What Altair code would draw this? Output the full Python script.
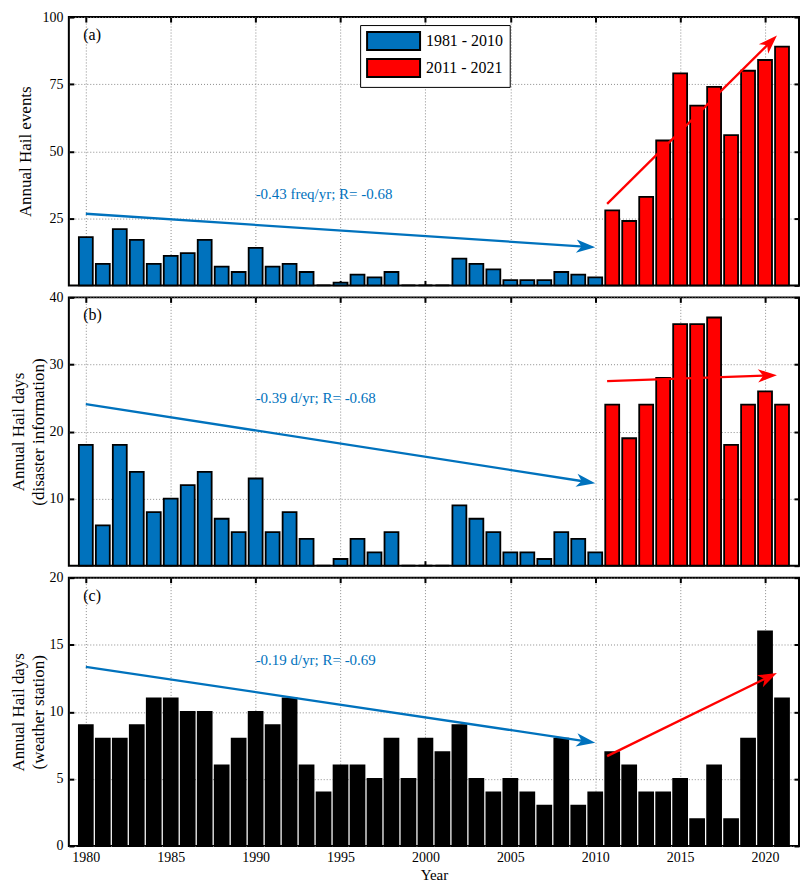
import math
import altair as alt
import pandas as pd

# ---------------- data ----------------
YEARS = list(range(1980, 2022))
EVENTS = [18, 8, 21, 17, 8, 11, 12, 17, 7, 5, 14, 7, 8, 5, 0, 1, 4, 3, 5, 0, 0,
          0, 10, 8, 6, 2, 2, 2, 5, 4, 3, 28, 24, 33, 54, 79, 67, 74, 56, 80, 84, 89]
DAYS_DISASTER = [18, 6, 18, 14, 8, 10, 12, 14, 7, 5, 13, 5, 8, 4, 0, 1, 4, 2, 5, 0, 0,
                 0, 9, 7, 5, 2, 2, 1, 5, 4, 2, 24, 19, 24, 28, 36, 36, 37, 18, 24, 26, 24]
DAYS_STATION = [9, 8, 8, 9, 11, 11, 10, 10, 6, 8, 10, 9, 11, 6, 4, 6, 6, 5, 8, 5, 8,
                7, 9, 5, 4, 5, 4, 3, 8, 3, 4, 7, 6, 4, 4, 5, 2, 6, 2, 8, 16, 11]
PERIODS = ["1981 - 2010", "2011 - 2021"]
PERIOD_COLORS = ["#0072BD", "#FF0000"]
X_TICKS = [1980, 1985, 1990, 1995, 2000, 2005, 2010, 2015, 2020]
Y_TICKS_A = [0, 25, 50, 75, 100]
Y_TICKS_B = [0, 10, 20, 30, 40]
Y_TICKS_C = [0, 5, 10, 15, 20]
BLUE = "#0072BD"
RED = "#FF0000"
# trend arrows: x0, y0, x1 (tip), y1 (tip), colour
TRENDS_A = [(1980, 26.7, 2010, 14.2, BLUE), (2010.7, 30.4, 2020.7, 93.1, RED)]
TRENDS_B = [(1980, 24.1, 2010, 12.3, BLUE), (2010.7, 27.5, 2020.7, 28.4, RED)]
TRENDS_C = [(1980, 13.35, 2010, 7.7, BLUE), (2010.7, 6.7, 2020.7, 12.9, RED)]
TEXT_A = ["-0.43 freq/yr; R= -0.68", 1990, 34]
TEXT_B = ["-0.39 d/yr; R= -0.68", 1990, 25]
TEXT_C = ["-0.19 d/yr; R= -0.69", 1990, 13.85]
PANEL_LABELS = ["(a)", "(b)", "(c)"]

# ---------------- layout / style ----------------
FONT = "Liberation Serif"
W, H = 732, 269
X_DOMAIN = [1979, 2022]
HEAD_LEN = 19
HEAD_PATH = "M0,0L-2,-0.7L-1.45,0L-2,0.7Z"


def arrows_df(trends, ymax):
    px = W / (X_DOMAIN[1] - X_DOMAIN[0])
    py = H / ymax
    rows = []
    for x0, y0, x1, y1, col in trends:
        sx = (x1 - x0) * px
        sy = -(y1 - y0) * py
        L = math.hypot(sx, sy)
        ang = math.degrees(math.atan2(sy, sx)) % 360
        sh = 11.0 / L
        rows.append(dict(x0=x0, y0=y0, xe=x1 - (x1 - x0) * sh, ye=y1 - (y1 - y0) * sh,
                         x1=x1, y1=y1, color=col, ang=ang))
    return pd.DataFrame(rows)


def panel(values, ymax, yticks, ytitle, title_x, label, trends, text,
          legend, colored, show_x, show_zero):
    df = pd.DataFrame({"year": YEARS, "value": values})
    df["period"] = [PERIODS[0] if y <= 2010 else PERIODS[1] for y in YEARS]
    xs = alt.Scale(domain=X_DOMAIN, nice=False, zero=False)
    ys = alt.Scale(domain=[0, ymax], nice=False, zero=True)

    x_axis = alt.Axis(values=X_TICKS, format="d", labels=show_x,
                      title="Year" if show_x else None,
                      offset=-5, tickSize=5, tickWidth=2, domain=False,
                      grid=True, labelFontSize=14, labelPadding=5,
                      titleFontSize=15, titlePadding=3)
    left_vals = yticks if show_zero else [v for v in yticks if v != 0]
    y_axis = alt.Axis(values=left_vals, offset=-5, tickSize=5, tickWidth=2, domain=False,
                      grid=True, labelFontSize=14, labelPadding=6,
                      title=ytitle, titleFontSize=17, titleX=title_x,
                      titleBaseline="middle", titleLineHeight=20)

    if colored:
        fill = alt.Fill("period:N", scale=alt.Scale(domain=PERIODS, range=PERIOD_COLORS),
                        legend=legend)
    else:
        fill = alt.value("black")

    bars = alt.Chart(df).transform_calculate(
        xa="datum.year - 0.41", xb="datum.year + 0.41", base="0"
    ).mark_bar(stroke="black", strokeWidth=1.8, opacity=1).encode(
        x=alt.X("xa:Q", scale=xs, axis=x_axis),
        x2="xb:Q",
        y=alt.Y("value:Q", scale=ys, axis=y_axis),
        y2="base:Q",
        fill=fill,
    )

    ghost = alt.Chart(df).mark_point(opacity=0).encode(
        x=alt.X("year:Q", scale=xs,
                axis=alt.Axis(orient="top", values=X_TICKS, labels=False, title=None,
                              offset=-5, tickSize=5, tickWidth=2, domain=False, grid=False)),
        y=alt.Y("value:Q", scale=ys,
                axis=alt.Axis(orient="right", values=yticks, labels=False, title=None,
                              offset=-5, tickSize=5, tickWidth=2, domain=False, grid=False)),
    )

    adf = arrows_df(trends, ymax)
    shafts = alt.Chart(adf).mark_rule(strokeWidth=2.3).encode(
        x=alt.X("x0:Q", scale=xs, axis=None),
        y=alt.Y("y0:Q", scale=ys, axis=None),
        x2="xe:Q", y2="ye:Q",
        color=alt.Color("color:N", scale=None),
    )
    heads = alt.Chart(adf).mark_point(shape=HEAD_PATH, filled=True, size=HEAD_LEN ** 2,
                                      opacity=1, strokeWidth=0).encode(
        x=alt.X("x1:Q", scale=xs, axis=None),
        y=alt.Y("y1:Q", scale=ys, axis=None),
        angle=alt.Angle("ang:Q", scale=None),
        color=alt.Color("color:N", scale=None),
    )

    tdf = pd.DataFrame({"label": [text[0]], "x": [text[1]], "y": [text[2]]})
    ttext = alt.Chart(tdf).mark_text(align="left", baseline="middle", fontSize=15,
                                     color=BLUE, font=FONT).encode(
        x=alt.X("x:Q", scale=xs, axis=None),
        y=alt.Y("y:Q", scale=ys, axis=None),
        text="label:N",
    )

    ldf = pd.DataFrame({"label": [label], "x": [1979.85], "y": [ymax * (1 - 18 / H)]})
    ltext = alt.Chart(ldf).mark_text(align="left", baseline="middle", fontSize=16,
                                     color="black", font=FONT).encode(
        x=alt.X("x:Q", scale=xs, axis=None),
        y=alt.Y("y:Q", scale=ys, axis=None),
        text="label:N",
    )

    return alt.layer(bars, ghost, shafts, heads, ttext, ltext).resolve_axis(
        x="independent", y="independent"
    ).properties(width=W, height=H)


legend_a = alt.Legend(
    title=None, orient="none", legendX=292, legendY=8, direction="vertical",
    symbolType="M-1,-1H4.9V1H-1Z", symbolSize=324, symbolStrokeColor="black",
    symbolStrokeWidth=2, symbolOpacity=1, labelFont=FONT, labelFontSize=16,
    labelColor="black", labelOffset=40, rowPadding=1, padding=6,
    strokeColor="black", fillColor="white",
)

pa = panel(EVENTS, 100, Y_TICKS_A, "Annual Hail events", -48, PANEL_LABELS[0],
           TRENDS_A, TEXT_A, legend_a, True, False, False)
pb = panel(DAYS_DISASTER, 40, Y_TICKS_B, ["Annual Hail days", "(disaster information)"],
           -55, PANEL_LABELS[1], TRENDS_B, TEXT_B, None, True, False, False)
pc = panel(DAYS_STATION, 20, Y_TICKS_C, ["Annual Hail days", "(weather station)"],
           -55, PANEL_LABELS[2], TRENDS_C, TEXT_C, None, False, True, True)

chart = alt.vconcat(pa, pb, pc, spacing=0).resolve_scale(fill="independent").properties(
    padding=0
).configure_view(
    stroke="black", strokeWidth=2
).configure_axis(
    labelFont=FONT, titleFont=FONT, labelColor="black", titleColor="black",
    titleFontWeight="normal", tickColor="black", gridColor="#8c8c8c",
    gridDash=[1, 2], gridWidth=1, gridOpacity=1
).configure_text(font=FONT)

chart.save("out.html", embed_options={"renderer": "svg", "actions": False})
